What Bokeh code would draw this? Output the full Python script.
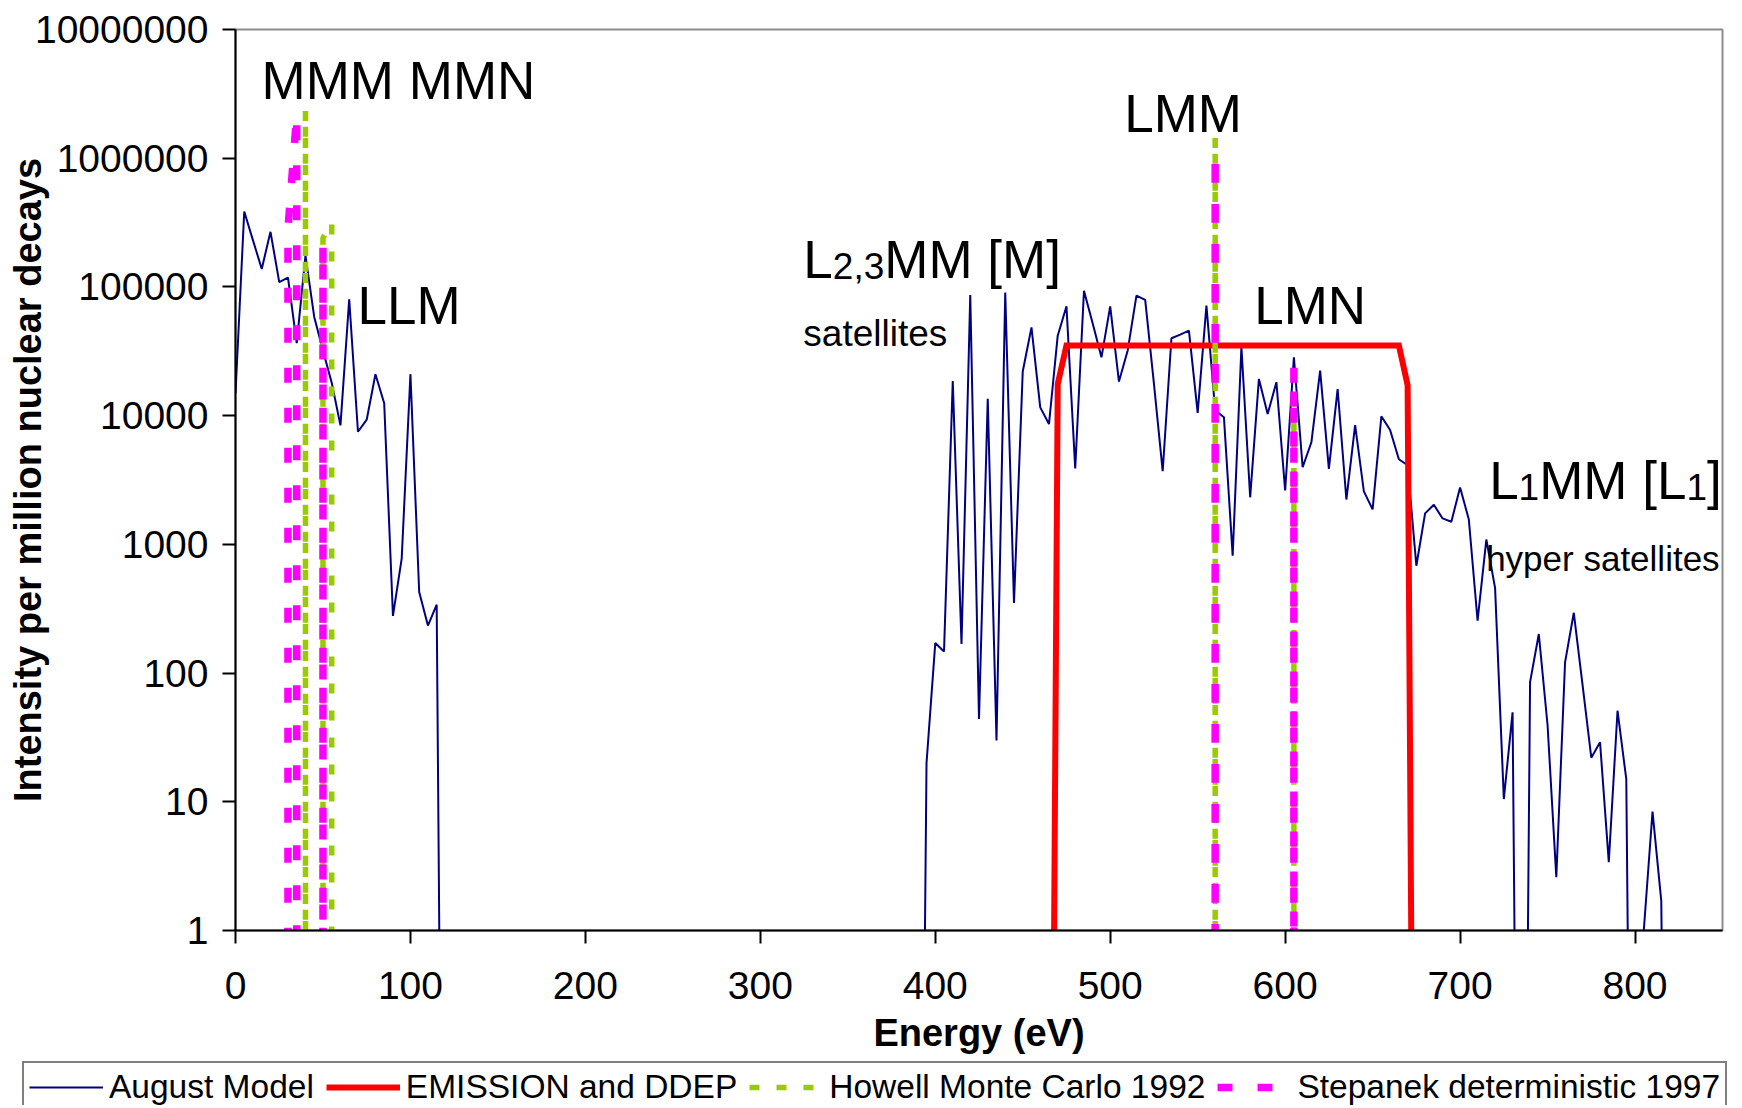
from bokeh.plotting import figure
from bokeh.models import (Range1d, FixedTicker, PrintfTickFormatter, Label,
                          Legend, LegendItem)
from bokeh.embed import file_html
from bokeh.resources import INLINE

# ---------------- data ----------------
august_e = list(range(0, 825, 5))
august_i = (
    [15000, 385000, 230000, 138000, 268000, 109000, 118000, 36600, 175000, 58500,
     32000, 18000, 8400, 80200, 7500, 9300, 21000, 12500, 278, 776,
     21000, 426, 234, 340]
    + [0] * 55
    + [20, 171, 147, 18600, 168, 86700, 44, 13500, 30, 90600,
       350, 22000, 48500, 11600, 8600, 41800, 70700, 3890, 93300, 52000,
       28400, 70700, 18400, 32100, 85700, 79400, 17700, 3700, 39900, 42600,
       45800, 10500, 71600, 11000, 9730, 818, 34000, 2320, 19300, 10300,
       18200, 2620, 28400, 3970, 6210, 22400, 3860, 16100, 2230, 8450,
       2580, 1870, 9890, 7740, 4580, 4120, 682, 1740, 2030, 1590,
       1500, 2770, 1560, 255, 1090, 459, 10.5, 49.5, 0, 85,
       201, 39.5, 2.6, 121, 294, 81, 22, 29, 3.4, 51,
       15, 0, 1, 8.4, 1.7, 0]
)

emission_e = [465, 470, 475, 665, 670, 675]
emission_i = [0, 17600, 35100, 35100, 17300, 0]

howell_e = [40, 50, 55, 560, 605]
howell_i = [2350000, 240000, 318000, 1450000, 14000]

stepanek_e = [30, 35, 50, 560, 605]
stepanek_i = [285000, 2200000, 217000, 1090000, 23800]

x_ticks = [0, 100, 200, 300, 400, 500, 600, 700, 800]
y_ticks = [1, 10, 100, 1000, 10000, 100000, 1000000, 10000000]

legend_labels = ["August Model", "EMISSION and DDEP",
                 "Howell Monte Carlo 1992", "Stepanek deterministic 1997"]

FLOOR = 1e-6  # zero intensities are drawn far below the log axis


def floor0(vals):
    return [v if v > 0 else FLOOR for v in vals]


def peak_paths(energies, intens, step=5):
    """Lines joined when adjacent (5 eV apart), dropping to zero otherwise."""
    xs, ys = [], []
    cx, cy = [], []
    for e, v in zip(energies, intens):
        if cx and e - cx[-1] > step:
            xs.append([cx[0]] + cx + [cx[-1]])
            ys.append([FLOOR] + cy + [FLOOR])
            cx, cy = [], []
        cx.append(e)
        cy.append(v)
    if cx:
        xs.append([cx[0]] + cx + [cx[-1]])
        ys.append([FLOOR] + cy + [FLOOR])
    return xs, ys


FONT = "Liberation Sans"
BLUE, RED, GREEN, MAGENTA = "#000080", "#ff0000", "#99cc00", "#ff00ff"
STYLES = [
    dict(line_color=BLUE, line_width=2),
    dict(line_color=RED, line_width=6, line_join="miter"),
    dict(line_color=GREEN, line_width=5.5, line_dash="10 17"),
    dict(line_color=MAGENTA, line_width=7.5, line_dash="15 25"),
]


def draw_series(fig):
    r1 = fig.line(august_e, floor0(august_i), **STYLES[0])
    r2 = fig.line(emission_e, floor0(emission_i), **STYLES[1])
    gx, gy = peak_paths(howell_e, howell_i)
    r3 = fig.multi_line(gx, gy, **STYLES[2])
    mx, my = peak_paths(stepanek_e, stepanek_i)
    r4 = fig.multi_line(mx, my, **STYLES[3])
    return [r1, r2, r3, r4]


# ---------------- main chart ----------------
p = figure(width=1742, height=1060,
           x_range=Range1d(0, 850), y_range=Range1d(1, 1e7),
           y_axis_type="log", output_backend="svg", toolbar_location=None,
           min_border_left=235, min_border_right=20,
           min_border_top=29, min_border_bottom=130)
p.background_fill_color = "white"
p.border_fill_color = "white"
p.outline_line_color = "#8c8c8c"
p.outline_line_width = 2
p.xgrid.visible = False
p.ygrid.visible = False

draw_series(p)

for ax in (p.xaxis[0], p.yaxis[0]):
    ax.axis_line_color = "black"
    ax.axis_line_width = 2
    ax.major_tick_line_color = "black"
    ax.major_tick_line_width = 2
    ax.major_tick_in = 0
    ax.major_tick_out = 13
    ax.minor_tick_line_color = None
    ax.major_label_text_font = FONT
    ax.major_label_text_font_size = "39px"
    ax.major_label_text_color = "black"
    ax.axis_label_text_font = FONT
    ax.axis_label_text_font_size = "38px"
    ax.axis_label_text_font_style = "bold"
    ax.axis_label_text_color = "black"

p.xaxis[0].ticker = FixedTicker(ticks=x_ticks)
p.xaxis[0].major_label_standoff = 28
p.xaxis[0].axis_label = "Energy (eV)"
p.xaxis[0].axis_label_standoff = 10

p.yaxis[0].ticker = FixedTicker(ticks=y_ticks)
p.yaxis[0].formatter = PrintfTickFormatter(format="%d")
p.yaxis[0].major_label_standoff = 14
p.yaxis[0].axis_label = "Intensity per million nuclear decays"
p.yaxis[0].axis_label_standoff = -17

# annotations
BIG, SMALL = 53, 37
W = {"L": 0.556, "1": 0.556, "2": 0.556, "3": 0.556, ",": 0.278, "M": 0.833,
     " ": 0.278, "[": 0.278, "]": 0.278}


def tw(s, size):
    return sum(W[c] for c in s) * size


def ann(x, y, text, size, dx=0.0):
    p.add_layout(Label(x=x, y=y, text=text, x_offset=dx, y_offset=0.37 * size,
                       text_font=FONT, text_font_size=f"{size}px",
                       text_color="black", text_align="left",
                       text_baseline="alphabetic"))


ann(14.9, 2.807e6, "MMM MMN", BIG)
ann(69.7, 50100, "LLM", BIG)
ann(508.0, 1.555e6, "LMM", BIG)
ann(582.3, 50100, "LMN", BIG)

# L2,3MM [M]
x0, y0 = 324.6, 114200
ann(x0, y0, "L", BIG)
ann(x0, y0, "2,3", SMALL, tw("L", BIG))
ann(x0, y0, "MM [M]", BIG, tw("L", BIG) + tw("2,3", SMALL))
ann(x0, 33800, "satellites", SMALL)

# L1MM [L1]
x1, y1 = 716.6, 2190
off = 0.0
for part, sz in (("L", BIG), ("1", SMALL), ("MM [L", BIG), ("1", SMALL), ("]", BIG)):
    ann(x1, y1, part, sz, off)
    off += tw(part, sz)
ann(714.9, 614, "hyper satellites", 35)

# ---------------- legend strip (series drawn out of view, legend only) ----------------
q = figure(width=1742, height=45, x_range=Range1d(0, 850), y_range=Range1d(-2, -1),
           x_axis_type=None, y_axis_type=None, output_backend="svg",
           toolbar_location=None, min_border_left=22, min_border_right=0,
           min_border_top=1, min_border_bottom=0)
q.outline_line_color = None
q.background_fill_color = "white"
q.border_fill_color = "white"
leg_r = draw_series(q)

legend = Legend(
    items=[LegendItem(label=lab, renderers=[r]) for lab, r in zip(legend_labels, leg_r)],
    orientation="horizontal", location="top_left",
    label_text_font=FONT, label_text_font_size="33.5px", label_text_color="black",
    glyph_width=74, glyph_height=34, label_height=34, label_standoff=6,
    spacing=12, padding=5, margin=0,
    border_line_color="black", border_line_width=2,
    background_fill_color="white", background_fill_alpha=1.0)
q.add_layout(legend)

open("out.html", "w").write(file_html([p, q], INLINE))
